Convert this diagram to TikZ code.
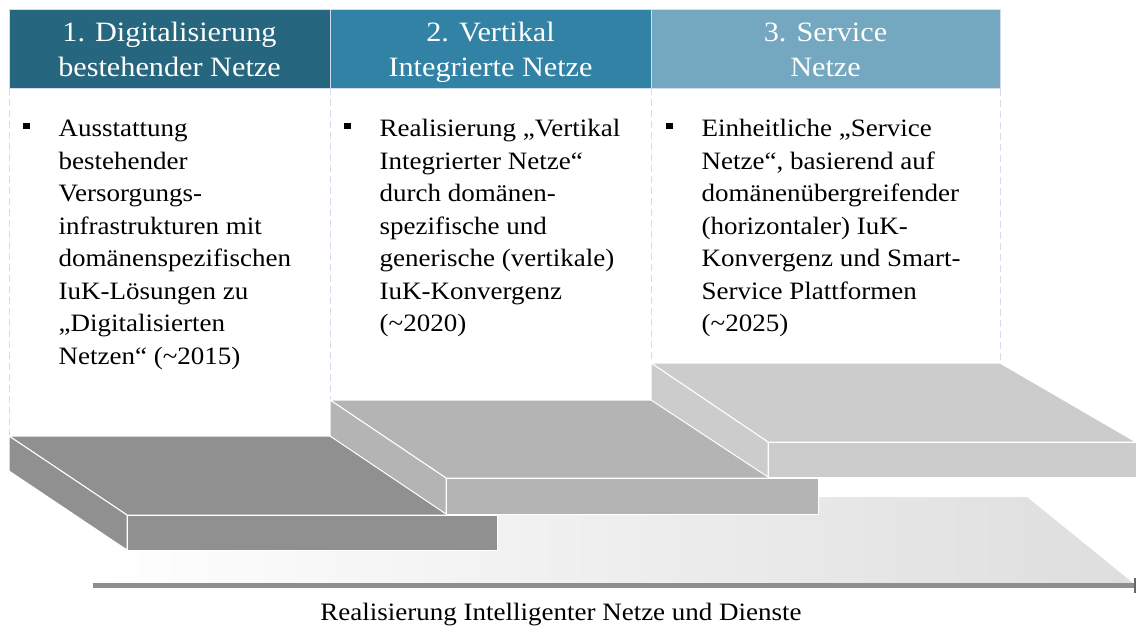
\documentclass[tikz,border=0pt]{standalone}
\usepackage{fontspec}
\setmainfont{Liberation Serif}[FakeStretch=1.08]
\usepackage{tikz}
\usetikzlibrary{arrows.meta}

\definecolor{headA}{HTML}{26677F}
\definecolor{headB}{HTML}{3282A5}
\definecolor{headC}{HTML}{74A7C0}
\definecolor{frame}{HTML}{D3DBEE}
\definecolor{slabA}{HTML}{909090}
\definecolor{slabB}{HTML}{B4B4B4}
\definecolor{slabC}{HTML}{CCCCCC}
\definecolor{axis}{HTML}{8E8E8E}

\tikzset{
  head/.style={rectangle, minimum height=79pt, inner sep=0pt, draw=frame, line width=0.5pt},
  headtxt/.style={anchor=north, align=center, inner sep=0pt, text=white, font=\fontsize{28}{35}\selectfont},
  txt/.style={anchor=north west, align=left, inner sep=0pt, font=\fontsize{25}{32.5}\selectfont},
  bullet/.style={rectangle, fill=black, minimum width=7pt, minimum height=6pt, inner sep=0pt},
  colline/.style={draw=frame, fill=white, dash pattern=on 7pt off 4pt, line width=0.8pt},
  face/.style={draw=white, line width=1pt, line join=round}
}

\begin{document}
\begin{tikzpicture}[x=1pt, y=-1pt]
\useasboundingbox (0,0) rectangle (1136,626);

% panels
\draw[colline] (9,88) rectangle (330,436);
\draw[colline] (330,88) rectangle (651,400);
\draw[colline] (651,88) rectangle (1000,363);

% ground
\shade[left color=white, right color=black!13] (93,497) -- (1027,497) -- (1133,583) -- (93,583) -- cycle;

% slab 1
\filldraw[face, fill=slabA] (9,436) -- (379,436) -- (497,515) -- (127,515) -- cycle;
\filldraw[face, fill=slabA] (9,436) -- (127,515) -- (127,550) -- (9,471) -- cycle;
\filldraw[face, fill=slabA] (127,515) rectangle (497,550);

% slab 2
\filldraw[face, fill=slabB] (330,400) -- (702,400) -- (818,478) -- (446,478) -- cycle;
\filldraw[face, fill=slabB] (330,400) -- (446,478) -- (446,514) -- (330,436) -- cycle;
\filldraw[face, fill=slabB] (446,478) rectangle (818,514);

% slab 3
\filldraw[face, fill=slabC] (651,363) -- (1000,363) -- (1136,442) -- (768,442) -- cycle;
\filldraw[face, fill=slabC] (651,363) -- (768,442) -- (768,477) -- (651,400) -- cycle;
\filldraw[face, fill=slabC] (768,442) rectangle (1136,477);

% axis
\coordinate (start) at (93,585.8);
\coordinate (end) at (1136,585.8);
\draw[axis, line width=5pt, -{Bar[width=15pt, line width=2.5pt, color=black!60]}] (start) -- (end);
\node[anchor=base, inner sep=0pt, font=\fontsize{25}{30}\selectfont] (caption) at (561,620) {Realisierung Intelligenter Netze und Dienste};

% headers
\node[head, fill=headA, minimum width=321pt] (h1) at (169.5,48.5) {};
\node[head, fill=headB, minimum width=321pt] (h2) at (490.5,48.5) {};
\node[head, fill=headC, minimum width=349pt] (h3) at (825.5,48.5) {};
\node[headtxt] (h1text) at (169.5,17.2) {\strut 1. Digitalisierung\\bestehender Netze};
\node[headtxt] (h2text) at (490.5,17.2) {\strut 2. Vertikal\\Integrierte Netze};
\node[headtxt] (h3text) at (825.5,17.2) {\strut 3. Service\\Netze};

% bullets
\node[bullet] (p1) at (26.7,125.5) {};
\node[bullet] (p2) at (347.7,125.5) {};
\node[bullet] (p3) at (669.7,125.5) {};

\node[txt] (t1) at (58.5,114) {\strut Ausstattung\\bestehender\\Versorgungs-\\infrastrukturen mit\\domänenspezifischen\\IuK-Lösungen zu\\„Digitalisierten\\Netzen“ (\textasciitilde2015)};
\node[txt] (t2) at (379.5,114) {\strut Realisierung „Vertikal\\Integrierter Netze“\\durch domänen-\\spezifische und\\generische (vertikale)\\IuK-Konvergenz\\(\textasciitilde2020)};
\node[txt] (t3) at (701.5,114) {\strut Einheitliche „Service\\Netze“, basierend auf\\domänenübergreifender\\(horizontaler) IuK-\\Konvergenz und Smart-\\Service Plattformen\\(\textasciitilde2025)};

\end{tikzpicture}
\end{document}
